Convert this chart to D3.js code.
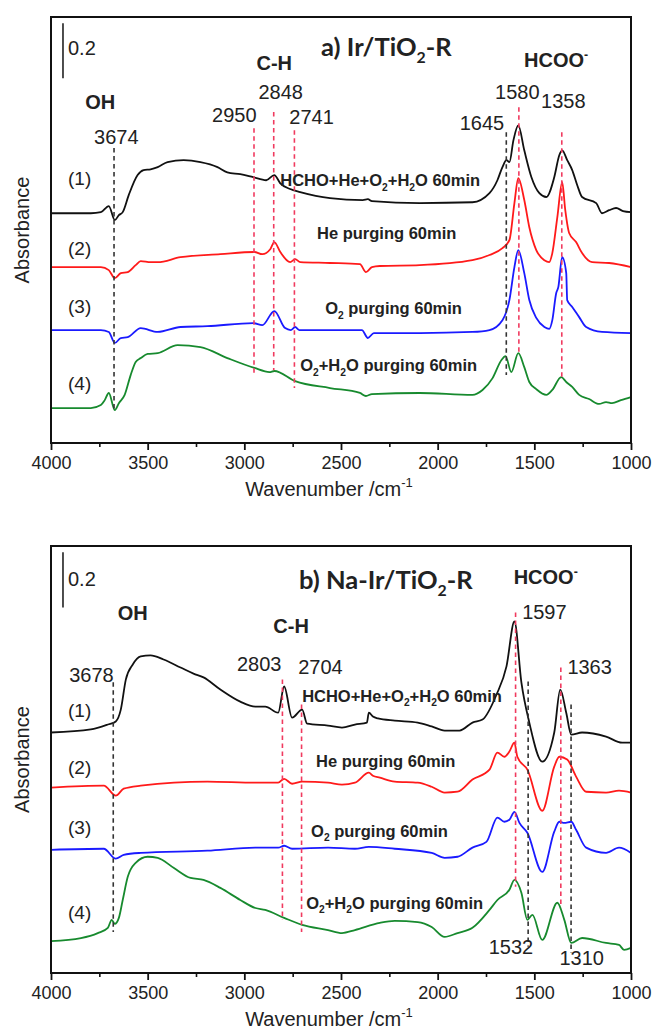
<!DOCTYPE html>
<html>
<head>
<meta charset="utf-8">
<script src="https://cdn.jsdelivr.net/npm/d3@7/dist/d3.min.js"></script>
<style>
  html, body { margin: 0; padding: 0; background: #fff; }
  svg { display: block; }
  text { font-family: "Liberation Sans", Arial, sans-serif; fill: #222; }
</style>
</head>
<body>
<svg id="chart" width="654" height="1034"></svg>
<script>
// In-situ DRIFTS spectra, traces stacked with vertical offsets.
// Each trace: [wavenumber (cm-1), offset absorbance]

// ---------- a) Ir/TiO2-R ----------
const irSpec1 = [[4000,0.836],[3794,0.836],[3742,0.840],[3701,0.862],[3670,0.811],[3649,0.829],[3629,0.840],[3598,0.902],[3552,0.975],[3521,0.993],[3485,0.996],[3448,1.004],[3397,1.022],[3314,1.029],[3227,1.022],[3139,1.004],[3088,0.985],[3021,0.978],[2954,0.967],[2887,0.956],[2845,0.975],[2814,0.945],[2763,0.924],[2711,0.913],[2557,0.891],[2387,0.884],[2361,0.887],[2340,0.880],[2093,0.873],[1820,0.876],[1732,0.909],[1691,0.956],[1665,1.004],[1644,1.029],[1629,1.022],[1608,1.102],[1583,1.156],[1552,1.065],[1515,0.967],[1474,0.909],[1438,0.895],[1397,0.967],[1371,1.047],[1356,1.065],[1330,1.029],[1304,0.993],[1278,0.938],[1253,0.895],[1180,0.873],[1150,0.836],[1113,0.847],[1077,0.855],[1041,0.844],[1000,0.840]];
const irSpec2 = [[4000,0.640],[3742,0.640],[3701,0.629],[3670,0.600],[3639,0.618],[3603,0.622],[3562,0.647],[3536,0.662],[3485,0.658],[3448,0.658],[3330,0.676],[3124,0.687],[2948,0.695],[2907,0.687],[2866,0.705],[2845,0.731],[2814,0.695],[2763,0.658],[2737,0.669],[2711,0.658],[2557,0.655],[2402,0.651],[2371,0.622],[2340,0.640],[2299,0.644],[2093,0.647],[1820,0.665],[1732,0.684],[1665,0.709],[1629,0.738],[1603,0.873],[1583,0.964],[1552,0.884],[1526,0.785],[1490,0.702],[1448,0.665],[1423,0.658],[1407,0.691],[1381,0.822],[1356,0.949],[1340,0.847],[1320,0.764],[1284,0.731],[1253,0.691],[1201,0.658],[1113,0.655],[1000,0.640]];
const irSpec3 = [[4000,0.411],[3742,0.411],[3701,0.404],[3670,0.364],[3639,0.382],[3603,0.385],[3536,0.418],[3448,0.404],[3330,0.422],[3191,0.425],[2954,0.436],[2907,0.429],[2845,0.480],[2789,0.418],[2760,0.411],[2737,0.422],[2715,0.411],[2557,0.411],[2392,0.411],[2361,0.382],[2330,0.400],[2093,0.400],[1820,0.404],[1732,0.411],[1665,0.447],[1629,0.520],[1603,0.640],[1583,0.702],[1552,0.618],[1526,0.520],[1490,0.455],[1448,0.422],[1423,0.415],[1407,0.447],[1387,0.545],[1376,0.567],[1356,0.676],[1335,0.618],[1330,0.520],[1304,0.495],[1268,0.458],[1232,0.422],[1150,0.404],[1000,0.400]];
const irSpec4 = [[4000,0.127],[3794,0.127],[3742,0.138],[3722,0.156],[3701,0.182],[3670,0.120],[3649,0.145],[3619,0.175],[3588,0.247],[3562,0.295],[3536,0.309],[3500,0.324],[3448,0.327],[3345,0.356],[3227,0.349],[3088,0.309],[2948,0.273],[2870,0.258],[2845,0.262],[2737,0.225],[2557,0.200],[2402,0.182],[2371,0.171],[2340,0.178],[2093,0.182],[1820,0.175],[1768,0.193],[1716,0.236],[1670,0.302],[1649,0.316],[1619,0.258],[1583,0.327],[1552,0.276],[1526,0.222],[1490,0.196],[1438,0.175],[1407,0.193],[1361,0.240],[1335,0.222],[1304,0.204],[1268,0.175],[1217,0.160],[1165,0.142],[1129,0.149],[1098,0.145],[1052,0.156],[1000,0.167]];

// ---------- b) Na-Ir/TiO2-R ----------
const naSpec1 = [[4000,0.873],[3794,0.884],[3706,0.902],[3665,0.913],[3639,0.956],[3613,1.065],[3577,1.120],[3536,1.149],[3485,1.153],[3418,1.138],[3330,1.109],[3263,1.087],[3211,1.073],[3124,1.029],[3021,0.985],[2943,0.967],[2892,0.967],[2825,0.945],[2794,1.040],[2753,0.927],[2701,0.956],[2675,0.905],[2567,0.898],[2495,0.891],[2428,0.902],[2366,0.909],[2356,0.945],[2335,0.931],[2309,0.924],[2222,0.916],[2103,0.909],[2031,0.895],[1964,0.880],[1887,0.880],[1820,0.909],[1768,0.920],[1696,1.010],[1644,1.113],[1603,1.276],[1567,1.055],[1526,0.909],[1459,0.767],[1397,0.873],[1366,1.029],[1335,0.945],[1309,0.865],[1253,0.873],[1129,0.858],[1046,0.836],[1000,0.836]];
const naSpec2 = [[4000,0.673],[3727,0.680],[3665,0.644],[3624,0.669],[3536,0.680],[3191,0.695],[2943,0.691],[2825,0.691],[2794,0.705],[2753,0.687],[2701,0.695],[2567,0.691],[2495,0.684],[2428,0.691],[2356,0.727],[2335,0.716],[2299,0.709],[2222,0.695],[2103,0.691],[2031,0.676],[1964,0.655],[1897,0.658],[1820,0.702],[1732,0.738],[1691,0.800],[1655,0.785],[1629,0.804],[1603,0.836],[1588,0.785],[1536,0.738],[1459,0.589],[1397,0.749],[1371,0.785],[1330,0.775],[1284,0.713],[1232,0.658],[1129,0.655],[1062,0.662],[1000,0.655]];
const naSpec3 = [[4000,0.447],[3727,0.451],[3665,0.415],[3624,0.429],[3536,0.436],[3191,0.444],[2943,0.455],[2825,0.455],[2794,0.462],[2753,0.451],[2567,0.455],[2428,0.451],[2356,0.458],[2222,0.451],[2031,0.436],[1964,0.418],[1897,0.422],[1820,0.455],[1748,0.476],[1691,0.564],[1655,0.549],[1629,0.556],[1603,0.585],[1577,0.545],[1536,0.509],[1459,0.367],[1397,0.513],[1371,0.549],[1345,0.545],[1309,0.549],[1284,0.520],[1232,0.455],[1129,0.436],[1062,0.455],[1000,0.436]];
const naSpec4 = [[4000,0.116],[3845,0.127],[3758,0.145],[3706,0.164],[3686,0.193],[3670,0.178],[3649,0.200],[3629,0.265],[3603,0.349],[3562,0.400],[3500,0.422],[3448,0.418],[3366,0.382],[3278,0.345],[3211,0.338],[3124,0.309],[3021,0.265],[2943,0.236],[2892,0.229],[2794,0.200],[2701,0.175],[2567,0.156],[2495,0.145],[2428,0.156],[2299,0.182],[2222,0.189],[2103,0.185],[2031,0.167],[1964,0.131],[1897,0.145],[1820,0.164],[1732,0.229],[1691,0.265],[1629,0.302],[1603,0.338],[1567,0.291],[1536,0.193],[1510,0.211],[1459,0.120],[1381,0.255],[1345,0.193],[1309,0.109],[1253,0.127],[1129,0.109],[1062,0.102],[1036,0.084],[1000,0.091]];

// Axis ticks
const majorTicks = [4000, 3500, 3000, 2500, 2000, 1500, 1000];
const minorTicks = [3750, 3250, 2750, 2250, 1750, 1250];

// Band markers: [wavenumber, top absorbance, bottom absorbance, kind]
const irMarkers = [[3674,1.073,0.120,"k"],[2950,1.145,0.255,"r"],[2848,1.204,0.265,"r"],[2741,1.138,0.200,"r"],[1645,1.131,0.247,"k"],[1580,1.222,0.327,"r"],[1358,1.131,0.240,"r"]];
const naMarkers = [[3678,1.055,0.149,"k"],[2803,1.065,0.193,"r"],[2704,0.975,0.149,"r"],[1597,1.309,0.313,"r"],[1532,1.058,0.095,"k"],[1363,1.109,0.247,"r"],[1310,0.975,0.073,"k"]];

// Text annotations: [text, wavenumber, absorbance, anchor, style]
const irNotes = [
  ["0.2",3912,1.411,"start","num"],["OH",3745,1.215,"middle","band"],["3674",3662,1.087,"middle","num"],
  ["2950",3052,1.167,"middle","num"],["C-H",2845,1.356,"middle","band"],["2848",2812,1.251,"middle","num"],
  ["2741",2652,1.160,"middle","num"],["a) Ir/TiO_2-R",2603,1.407,"start","title"],["HCOO^-",1387,1.367,"middle","band"],
  ["1645",1771,1.138,"middle","num"],["1580",1588,1.251,"middle","num"],["1358",1350,1.218,"middle","num"],
  ["(1)",3912,0.938,"start","idx"],["(2)",3912,0.684,"start","idx"],["(3)",3912,0.473,"start","idx"],["(4)",3912,0.193,"start","idx"],
  ["HCHO+He+O_2+H_2O 60min",2814,0.935,"start","cond"],["He purging 60min",2624,0.742,"start","cond"],
  ["O_2 purging 60min",2582,0.469,"start","cond"],["O_2+H_2O purging 60min",2711,0.262,"start","cond"]
];
const naNotes = [
  ["0.2",3912,1.404,"start","num"],["OH",3577,1.280,"middle","band"],["C-H",2758,1.233,"middle","band"],
  ["b) Na-Ir/TiO_2-R",2717,1.393,"start","title"],["HCOO^-",1441,1.411,"middle","band"],["1597",1448,1.284,"middle","num"],
  ["3678",3791,1.055,"middle","num"],["2803",2923,1.098,"middle","num"],["2704",2606,1.087,"middle","num"],
  ["1363",1214,1.087,"middle","num"],["1532",1621,0.069,"middle","num"],["1310",1255,0.029,"middle","num"],
  ["(1)",3912,0.931,"start","idx"],["(2)",3912,0.724,"start","idx"],["(3)",3912,0.505,"start","idx"],["(4)",3912,0.196,"start","idx"],
  ["HCHO+He+O_2+H_2O 60min",2701,0.985,"start","cond"],["He purging 60min",2629,0.749,"start","cond"],
  ["O_2 purging 60min",2655,0.495,"start","cond"],["O_2+H_2O purging 60min",2680,0.233,"start","cond"]
];

const scaleBar = [1.327, 1.527];   // 0.2 absorbance units
const scaleBarWn = 3938;

// ---------- drawing ----------
const colors = ["#111111", "#ff1a1a", "#1a1aff", "#178a2e"];
const markerColor = { k: "#333333", r: "#f03a5f" };
const textStyles = {
  num:   { size: 20, weight: "normal", family: "'Liberation Sans', Arial, sans-serif" },
  band:  { size: 20, weight: "bold",   family: "'Liberation Sans', Arial, sans-serif" },
  title: { size: 25.5, weight: "bold", family: "Lato, 'Liberation Sans', sans-serif" },
  idx:   { size: 19, weight: "normal", family: "'Liberation Sans', Arial, sans-serif" },
  cond:  { size: 16.5, weight: "bold", family: "'Liberation Sans', Arial, sans-serif" }
};

const svg = d3.select("#chart");
const plotLeft = 51, plotRight = 631;

function richText(sel, str, size) {
  const segs = [];
  let buf = "";
  for (let i = 0; i < str.length; i++) {
    const c = str[i];
    if ((c === "_" || c === "^") && i + 1 < str.length) {
      if (buf) { segs.push({ t: buf, m: 0 }); buf = ""; }
      segs.push({ t: str[i + 1], m: c === "_" ? 1 : -1 });
      i++;
    } else buf += c;
  }
  if (buf) segs.push({ t: buf, m: 0 });
  let cur = 0;
  segs.forEach(s => {
    const target = s.m === 1 ? 0.28 * size : s.m === -1 ? -0.42 * size : 0;
    const ts = sel.append("tspan").text(s.t).attr("dy", target - cur);
    if (s.m) ts.attr("font-size", size * 0.62);
    cur = target;
  });
}

function panel(top, bottom, spectra, markers, notes) {
  const x = d3.scaleLinear().domain([4000, 1000]).range([plotLeft, plotRight]);
  const y = d3.scaleLinear().domain([0, 1.55]).range([bottom, top]);
  const g = svg.append("g");

  const line = d3.line().x(d => x(d[0])).y(d => y(d[1])).curve(d3.curveMonotoneX);
  spectra.forEach((s, i) => {
    g.append("path").attr("d", line(s)).attr("fill", "none")
      .attr("stroke", colors[i]).attr("stroke-width", 1.8).attr("stroke-linejoin", "round");
  });

  g.selectAll(".marker").data(markers).join("line")
    .attr("x1", d => x(d[0])).attr("x2", d => x(d[0]))
    .attr("y1", d => y(d[1])).attr("y2", d => y(d[2]))
    .attr("stroke", d => markerColor[d[3]]).attr("stroke-width", 1.6)
    .attr("stroke-dasharray", "4.5,3.5");

  // 0.2 absorbance scale bar
  g.append("line").attr("x1", x(scaleBarWn)).attr("x2", x(scaleBarWn))
    .attr("y1", y(scaleBar[0])).attr("y2", y(scaleBar[1]))
    .attr("stroke", "#222").attr("stroke-width", 1.6);

  notes.forEach(n => {
    const st = textStyles[n[4]];
    const t = g.append("text").attr("x", x(n[1])).attr("y", y(n[2]))
      .attr("text-anchor", n[3]).attr("font-size", st.size)
      .attr("font-weight", st.weight).style("font-family", st.family);
    richText(t, n[0], st.size);
  });

  // frame
  g.append("rect").attr("x", plotLeft).attr("y", top)
    .attr("width", plotRight - plotLeft).attr("height", bottom - top)
    .attr("fill", "none").attr("stroke", "#111").attr("stroke-width", 2);

  // x axis with outward ticks
  const axis = g.append("g").attr("transform", `translate(0,${bottom})`)
    .call(d3.axisBottom(x).tickValues(majorTicks).tickSize(7).tickPadding(6).tickFormat(d3.format("d")));
  axis.select(".domain").remove();
  axis.selectAll(".tick line").attr("stroke", "#111").attr("stroke-width", 1.8);
  axis.selectAll(".tick text").attr("font-size", 18).attr("fill", "#222")
    .style("font-family", "'Liberation Sans', Arial, sans-serif");
  const minor = g.append("g").attr("transform", `translate(0,${bottom})`)
    .call(d3.axisBottom(x).tickValues(minorTicks).tickSize(4).tickFormat(""));
  minor.select(".domain").remove();
  minor.selectAll(".tick line").attr("stroke", "#111").attr("stroke-width", 1.6);

  // axis titles
  const xt = g.append("text").attr("x", 329).attr("y", bottom + 53)
    .attr("text-anchor", "middle").attr("font-size", 20);
  xt.append("tspan").text("Wavenumber /cm");
  xt.append("tspan").text("-1").attr("font-size", 13).attr("dy", -9);

  g.append("text").attr("transform", `translate(29,${(top + bottom) / 2}) rotate(-90)`)
    .attr("text-anchor", "middle").attr("font-size", 20).text("Absorbance");
}

panel(17, 443, [irSpec1, irSpec2, irSpec3, irSpec4], irMarkers, irNotes);
panel(546, 973, [naSpec1, naSpec2, naSpec3, naSpec4], naMarkers, naNotes);
</script>
</body>
</html>
